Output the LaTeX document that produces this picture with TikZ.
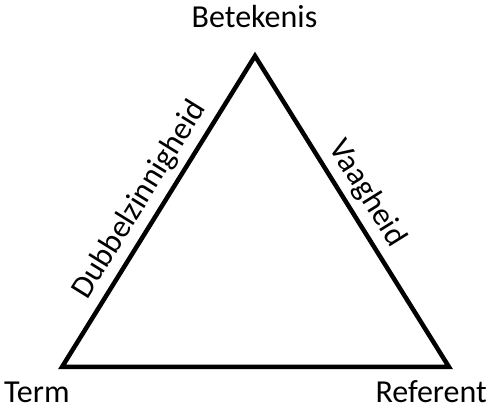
\documentclass[tikz,border=0pt]{standalone}
\usepackage{fontspec}
\setmainfont{Carlito}
\begin{document}
\begin{tikzpicture}[
    x=1pt, y=1pt,
    every node/.style={font=\fontsize{32}{38}\selectfont, inner sep=2pt},
    side/.style={line width=4.5pt, miter limit=20},
    sidelabel/.style={above=4pt, sloped}
]
\useasboundingbox (0,0) rectangle (490,411);

\coordinate (term) at (62,44);
\coordinate (betekenis) at (255,355);
\coordinate (referent) at (449,44);

\node[anchor=base] (tb) at (254.5,383) {Betekenis};
\node[anchor=base west, inner sep=0pt] (tt) at (4,8) {Term};
\node[anchor=base east, inner sep=0pt] (tr) at (487,8) {Referent};

% Triangle
\draw[side] (term) -- node[sidelabel, pos=0.5] {Dubbelzinnigheid} (betekenis)
    -- node[sidelabel, pos=0.48] {Vaagheid} (referent) -- cycle;

\end{tikzpicture}
\end{document}
